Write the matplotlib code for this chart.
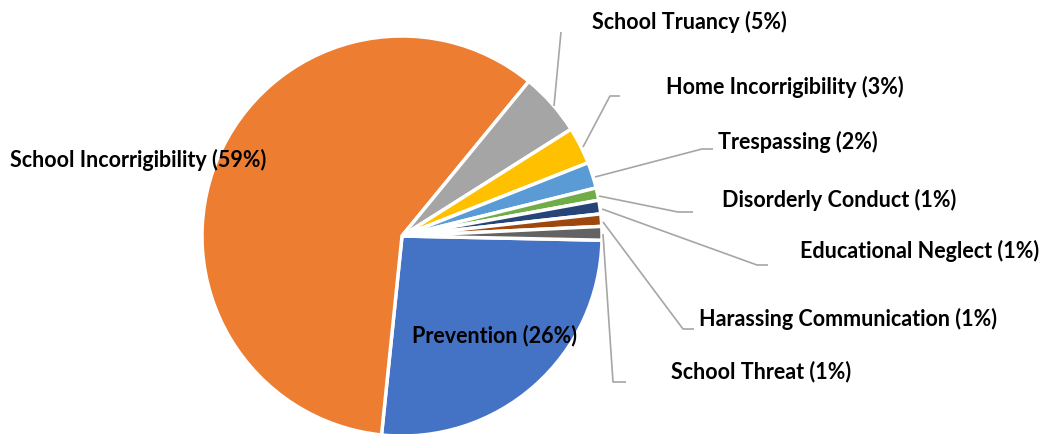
import matplotlib
matplotlib.use("Agg")
import matplotlib.pyplot as plt

# categories in clockwise order starting from Prevention
categories = ["Prevention", "School Incorrigibility", "School Truancy",
              "Home Incorrigibility", "Trespassing", "Disorderly Conduct",
              "Educational Neglect", "Harassing Communication", "School Threat"]
shares = [26.3, 59.3, 5.1, 3.0, 2.1, 1.0, 1.1, 1.0, 1.1]
colors = ["#4472C4", "#ED7D31", "#A5A5A5", "#FFC000", "#5B9BD5",
          "#70AD47", "#264478", "#9E480E", "#636363"]

W, H = 1048, 435
fig = plt.figure(figsize=(W / 100, H / 100), dpi=100)
ax = fig.add_axes([0, 0, 1, 1])

def py(y):
    # pixel row (from top) -> data y
    return H - y

cx, cy, r = 402, py(237), 200
explode = [0.025] + [0] * (len(shares) - 1)
ax.pie(shares, colors=colors, startangle=-1.2, counterclock=False,
       center=(cx, cy), radius=r, explode=explode,
       wedgeprops=dict(edgecolor="white", linewidth=2.5))
ax.set_xlim(0, W)
ax.set_ylim(0, H)
ax.set_aspect("equal")
ax.axis("off")

labels = [f"{c} ({v:.0f}%)" for c, v in zip(categories, shares)]
font = dict(family=["Lato", "DejaVu Sans"], weight="bold", fontsize=15.5,
            color="black", va="center")

# label positions (px) and leader lines
label_pos = {
    "School Incorrigibility": (10, 160),
    "School Truancy": (592, 22),
    "Home Incorrigibility": (666, 87),
    "Trespassing": (718, 142),
    "Disorderly Conduct": (722, 200),
    "Educational Neglect": (800, 251),
    "Harassing Communication": (699, 319),
    "School Threat": (671, 372),
}
leaders = {
    "School Truancy": [(554, 107), (561, 33)],
    "Home Incorrigibility": [(583, 148), (610, 97), (620, 97)],
    "Trespassing": [(595, 178), (702, 150), (713, 150)],
    "Disorderly Conduct": [(599, 197), (678, 213), (693, 213)],
    "Educational Neglect": [(602, 210), (757, 266), (768, 266)],
    "Harassing Communication": [(603, 223), (683, 330), (694, 330)],
    "School Threat": [(603, 235), (613, 383), (626, 383)],
}

for cat, lab in zip(categories, labels):
    if cat == "Prevention":
        ax.text(494, py(336), lab, ha="center", **font)
        continue
    x, y = label_pos[cat]
    ax.text(x, py(y), lab, ha="left", **font)
    if cat in leaders:
        pts = leaders[cat]
        ax.plot([p[0] for p in pts], [py(p[1]) for p in pts],
                color="#A6A6A6", linewidth=1.2, solid_capstyle="butt")

fig.savefig("out.png", dpi=100)
